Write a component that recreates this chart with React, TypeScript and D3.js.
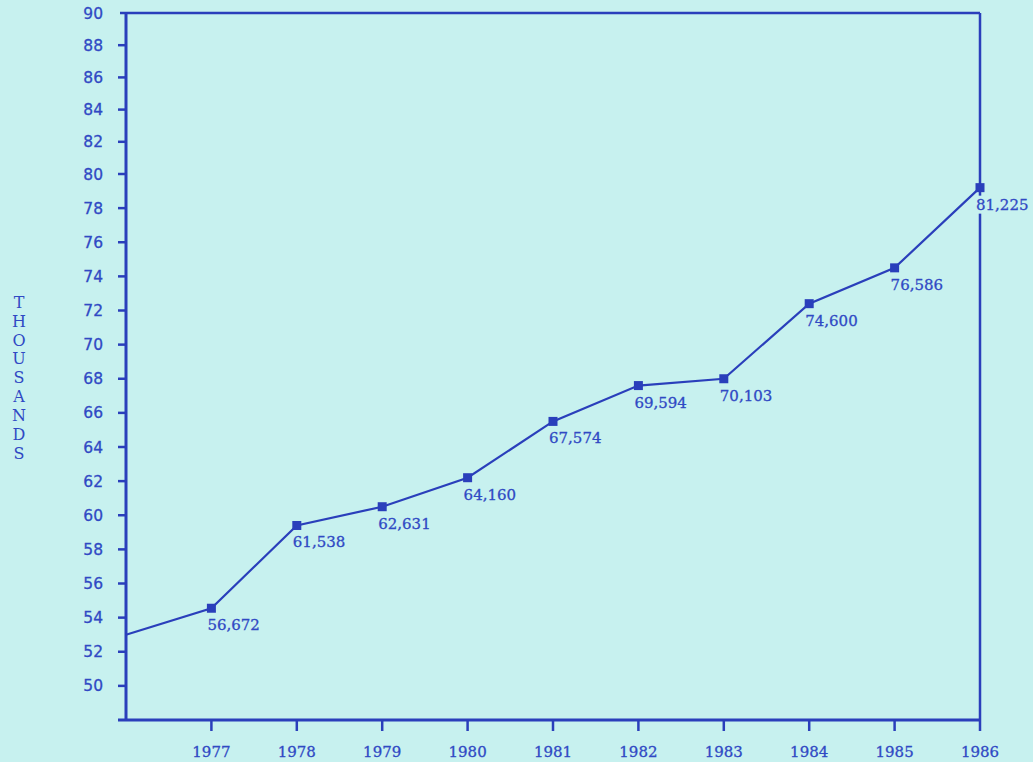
import * as d3 from "d3";

// plotted positions (thousands) as drawn on the original; labels as printed
const years = [1976, 1977, 1978, 1979, 1980, 1981, 1982, 1983, 1984, 1985, 1986];
const values = [53.0, 54.55, 59.4, 60.5, 62.2, 65.5, 67.6, 68.0, 72.4, 74.5, 79.2];
const labels = ["", "56,672", "61,538", "62,631", "64,160", "67,574", "69,594", "70,103", "74,600", "76,586", "81,225"];
const yTicks = [50, 52, 54, 56, 58, 60, 62, 64, 66, 68, 70, 72, 74, 76, 78, 80, 82, 84, 86, 88, 90];
const xTicks = [1977, 1978, 1979, 1980, 1981, 1982, 1983, 1984, 1985, 1986];
const axisTitle = "THOUSANDS";

const W = 1033;
const H = 762;
const margin = { top: 13, right: 53, bottom: 42, left: 126 };
const BG = "#c7f1ef";
const INK = "#2a3fbb";
const TEXT = "#3049c4";

export default function App() {
  const x = d3.scaleLinear().domain([1976, 1986]).range([margin.left, W - margin.right]);
  // the printed scale is slightly stretched below 80 (scan distortion)
  const y = d3
    .scaleLinear()
    .domain([48, 80, 90])
    .range([H - margin.bottom, 174, margin.top]);
  const line = d3
    .line<number>()
    .x((_, i) => x(years[i]))
    .y((d) => y(d));

  const x0 = margin.left;
  const x1 = W - margin.right;
  const y0 = H - margin.bottom;
  const y1 = margin.top;

  return (
    <svg
      width={W}
      height={H}
      style={{ position: "absolute", left: 0, top: 0, display: "block" }}
    >
      <rect x={0} y={0} width={W} height={H} fill={BG} />

      {/* frame */}
      <line x1={x0 - 6} x2={x1} y1={y1} y2={y1} stroke={INK} strokeWidth={2.5} />
      <line x1={x1} x2={x1} y1={y1} y2={y0} stroke={INK} strokeWidth={2.5} />
      <line x1={x0} x2={x0} y1={y1} y2={y0} stroke={INK} strokeWidth={3} />
      <line x1={x0 - 8} x2={x1} y1={y0} y2={y0} stroke={INK} strokeWidth={3} />

      {/* y axis */}
      {yTicks.map((t) => (
        <g key={t}>
          {t !== 90 && (
            <line x1={x0 - 8} x2={x0} y1={y(t)} y2={y(t)} stroke={INK} strokeWidth={2.5} />
          )}
          <text
            x={103}
            y={y(t)}
            dy="0.36em"
            textAnchor="end"
            fontFamily="DejaVu Sans"
            fontSize={15.5}
            fill={TEXT}
            stroke={TEXT}
            strokeWidth={0.3}
          >
            {t}
          </text>
        </g>
      ))}

      {/* x axis */}
      {xTicks.map((t) => (
        <g key={t}>
          <line x1={x(t)} x2={x(t)} y1={y0} y2={y0 + 11} stroke={INK} strokeWidth={2.5} />
          <text
            x={x(t)}
            y={757}
            textAnchor="middle"
            fontFamily="DejaVu Serif"
            fontSize={15}
            fill={TEXT}
            stroke={TEXT}
            strokeWidth={0.3}
          >
            {t}
          </text>
        </g>
      ))}

      {/* vertical axis title */}
      {axisTitle.split("").map((ch, i) => (
        <text
          key={i}
          x={19}
          y={302 + i * 18.9}
          dy="0.36em"
          textAnchor="middle"
          fontFamily="DejaVu Serif"
          fontSize={16}
          fill={TEXT}
        >
          {ch}
        </text>
      ))}

      {/* series */}
      <path d={line(values) ?? ""} fill="none" stroke={INK} strokeWidth={2.2} />
      {values.map((v, i) =>
        labels[i] ? (
          <g key={years[i]}>
            <rect x={x(years[i]) - 4.5} y={y(v) - 4.5} width={9} height={9} fill={INK} />
            {years[i] === 1986 && (
              <rect x={x(years[i]) - 3} y={y(v) + 8} width={52} height={18} fill={BG} />
            )}
            <text
              x={x(years[i]) - 4}
              y={y(v) + 22}
              fontFamily="DejaVu Serif"
              fontSize={15}
              fill={TEXT}
              stroke={TEXT}
              strokeWidth={0.3}
            >
              {labels[i]}
            </text>
          </g>
        ) : null
      )}
    </svg>
  );
}
